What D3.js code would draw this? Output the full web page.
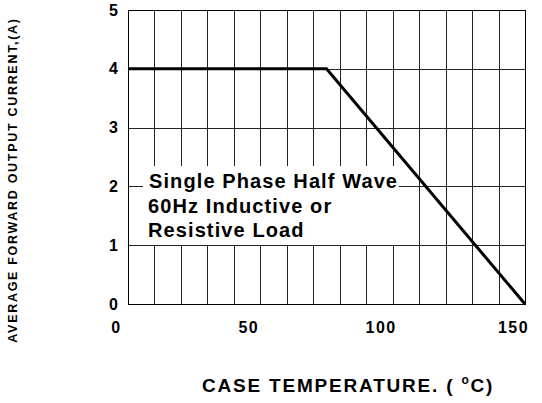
<!DOCTYPE html>
<html>
<head>
<meta charset="utf-8">
<script src="https://cdn.jsdelivr.net/npm/d3@7"></script>
<style>
  body { margin: 0; background: #fff; }
  text { font-family: "Liberation Sans", Arial, sans-serif; font-weight: bold; fill: #000; }
</style>
</head>
<body>
<div id="chart"></div>
<script>
// derating curve
const caseTemp = [0, 75, 150];
const outCurrent = [4, 4, 0];

const xTickValues = [0, 50, 100, 150];
const yTickValues = [0, 1, 2, 3, 4, 5];

const noteLines = ["Single Phase Half Wave", "60Hz Inductive or", "Resistive Load"];

const W = 542, H = 403;
const margin = { top: 10, right: 17, bottom: 99, left: 128 };
const width = W - margin.left - margin.right;
const height = H - margin.top - margin.bottom;

const svg = d3.select("#chart").append("svg")
  .attr("width", W)
  .attr("height", H);

const g = svg.append("g")
  .attr("transform", `translate(${margin.left},${margin.top})`);

const x = d3.scaleLinear().domain([0, 150]).range([0, width]);
const y = d3.scaleLinear().domain([0, 5]).range([height, 0]);

// grid
g.append("g")
  .selectAll("line")
  .data(x.ticks(15))
  .enter()
  .append("line")
  .attr("x1", d => Math.round(x(d)) + 0.5)
  .attr("x2", d => Math.round(x(d)) + 0.5)
  .attr("y1", 0)
  .attr("y2", height)
  .attr("stroke", "#222")
  .attr("stroke-width", 1);

g.append("g")
  .selectAll("line")
  .data(yTickValues)
  .enter()
  .append("line")
  .attr("x1", 0)
  .attr("x2", width)
  .attr("y1", d => Math.round(y(d)) + 0.5)
  .attr("y2", d => Math.round(y(d)) + 0.5)
  .attr("stroke", "#222")
  .attr("stroke-width", 1);

g.append("rect")
  .attr("x", 0.5)
  .attr("y", 0.5)
  .attr("width", Math.round(width))
  .attr("height", Math.round(height))
  .attr("fill", "none")
  .attr("stroke", "#000");

// note box (covers the grid behind the text)
g.append("rect")
  .attr("x", 15)
  .attr("y", 156)
  .attr("width", 256)
  .attr("height", 79)
  .attr("fill", "#fff");

const note = g.append("text")
  .style("font-size", "20px")
  .style("letter-spacing", "1.1px");
note.selectAll("tspan")
  .data(noteLines)
  .enter()
  .append("tspan")
  .attr("x", (d, i) => i === 0 ? 21 : 20)
  .attr("y", (d, i) => 178 + i * 24.5)
  .text(d => d);

// curve
const line = d3.line()
  .x(d => x(d[0]))
  .y(d => y(d[1]));

g.append("path")
  .datum(caseTemp.map((t, i) => [t, outCurrent[i]]))
  .attr("d", line)
  .attr("fill", "none")
  .attr("stroke", "#000")
  .attr("stroke-width", 3);

// axes labels
const yAxis = g.append("g")
  .call(d3.axisLeft(y).tickValues(yTickValues).tickSize(0).tickPadding(10).tickFormat(d3.format("d")));
yAxis.select(".domain").remove();
yAxis.selectAll("text")
  .style("font-size", "16px")
  .style("font-family", "Liberation Sans, Arial, sans-serif")
  .style("font-weight", "bold");

const xAxis = g.append("g")
  .attr("transform", `translate(0,${height})`)
  .call(d3.axisBottom(x).tickValues(xTickValues).tickSize(0).tickPadding(18).tickFormat(d3.format("d")));
xAxis.select(".domain").remove();
xAxis.selectAll("text")
  .attr("dx", -12)
  .style("font-size", "16px")
  .style("letter-spacing", "1.5px")
  .style("font-family", "Liberation Sans, Arial, sans-serif")
  .style("font-weight", "bold");

// axis titles
const xt = svg.append("text")
  .attr("x", 202)
  .attr("y", 392)
  .style("font-size", "19px")
  .style("letter-spacing", "1.8px");
xt.append("tspan").text("CASE TEMPERATURE. ( ");
xt.append("tspan").text("o").style("font-size", "12px").attr("dy", -8);
xt.append("tspan").text("C)").attr("dy", 8);

svg.append("text")
  .attr("transform", "translate(17,180) rotate(-90)")
  .attr("text-anchor", "middle")
  .style("font-size", "12.5px")
  .style("letter-spacing", "1.7px")
  .text("AVERAGE FORWARD OUTPUT CURRENT,(A)");
</script>
</body>
</html>
